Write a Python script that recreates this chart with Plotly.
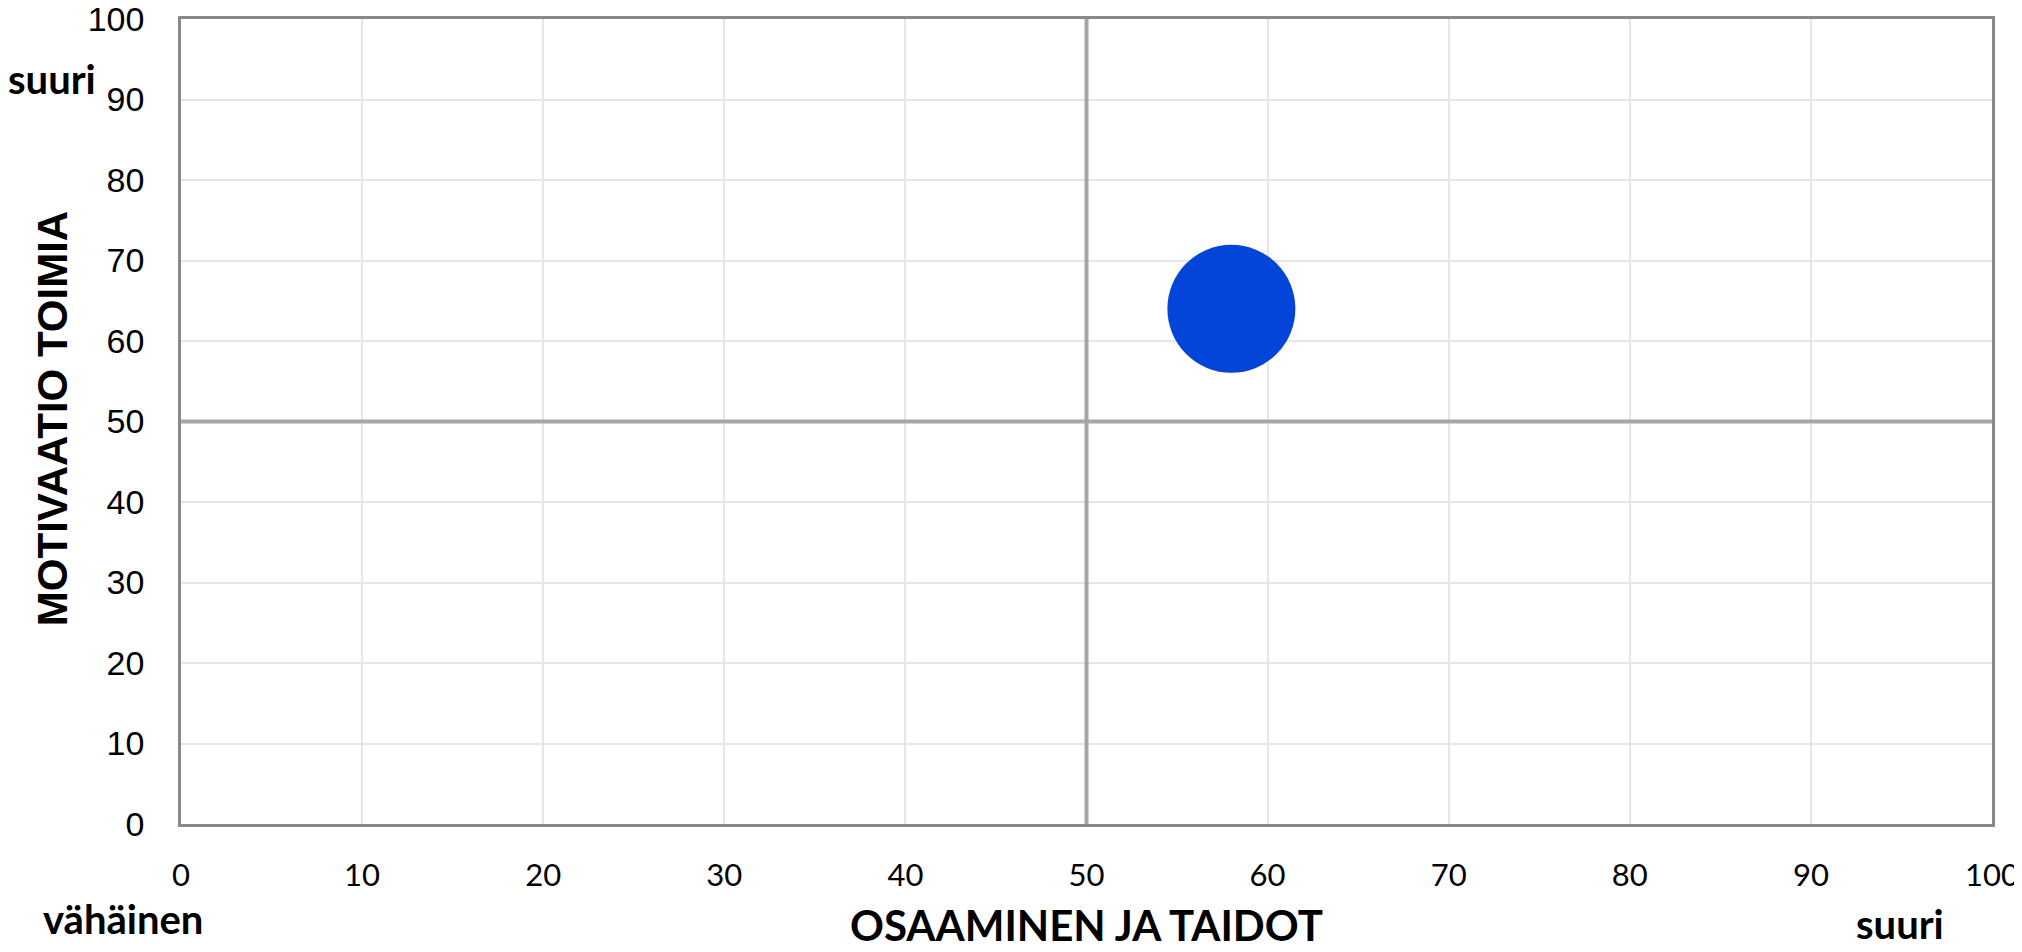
import plotly.graph_objects as go

# Data
skills = [58]          # OSAAMINEN JA TAIDOT
motivation = [64]      # MOTIVAATIO TOIMIA
midpoint = 50
tick_vals = list(range(0, 101, 10))
tick_text = [str(v) for v in tick_vals]

x_title = "OSAAMINEN JA TAIDOT"
y_title = "MOTIVAATIO TOIMIA"
low_label = "vähäinen"
high_label = "suuri"

fig = go.Figure()
fig.add_trace(go.Scatter(
    x=skills, y=motivation, mode="markers",
    marker=dict(size=128, color="#0344D9", line=dict(width=0)),
    hoverinfo="skip", showlegend=False,
))

fig.add_vline(x=midpoint, line=dict(color="#A6A6A6", width=4), layer="above")
fig.add_hline(y=midpoint, line=dict(color="#A6A6A6", width=4), layer="above")

common = dict(
    range=[0, 100], tickvals=tick_vals, ticktext=tick_text,
    showgrid=True, gridcolor="#E6E6E6", gridwidth=1.5,
    showline=True, linecolor="#898989", linewidth=2.5, mirror=True,
    zeroline=False, ticks="", automargin=False, ticklabeloverflow="allow",
    fixedrange=True,
)
fig.update_xaxes(**common, ticklabelstandoff=22,
                 tickfont=dict(family="Lato", size=31, color="#000000"))
fig.update_yaxes(**common, ticklabelstandoff=27,
                 tickfont=dict(family="Liberation Sans", size=34, color="#000000"))

annos = [
    dict(text=x_title, x=0.5, y=-0.125, font=dict(family="Lato", size=42, color="#000")),
    dict(text=y_title, x=-0.0712, y=0.503, textangle=-90,
         font=dict(family="Liberation Sans", size=42, color="#000")),
    dict(text=high_label, x=-0.0715, y=0.926, font=dict(family="Lato", size=40, color="#000")),
    dict(text=low_label, x=-0.032, y=-0.118, font=dict(family="Lato", size=40, color="#000")),
    dict(text=high_label, x=0.949, y=-0.124, font=dict(family="Lato", size=40, color="#000")),
]
for a in annos:
    a["text"] = "<b>" + a["text"] + "</b>"
    fig.add_annotation(xref="paper", yref="paper", xanchor="center", yanchor="middle",
                       showarrow=False, **a)

# The page body has an 8px default margin; margins compensate so the plot
# area lands where the reference has it.
fig.update_layout(
    width=2014, height=944,
    margin=dict(l=173, r=30, t=11, b=128),
    paper_bgcolor="white", plot_bgcolor="white",
    showlegend=False,
)

fig.write_html("out.html", config={"displayModeBar": False})
